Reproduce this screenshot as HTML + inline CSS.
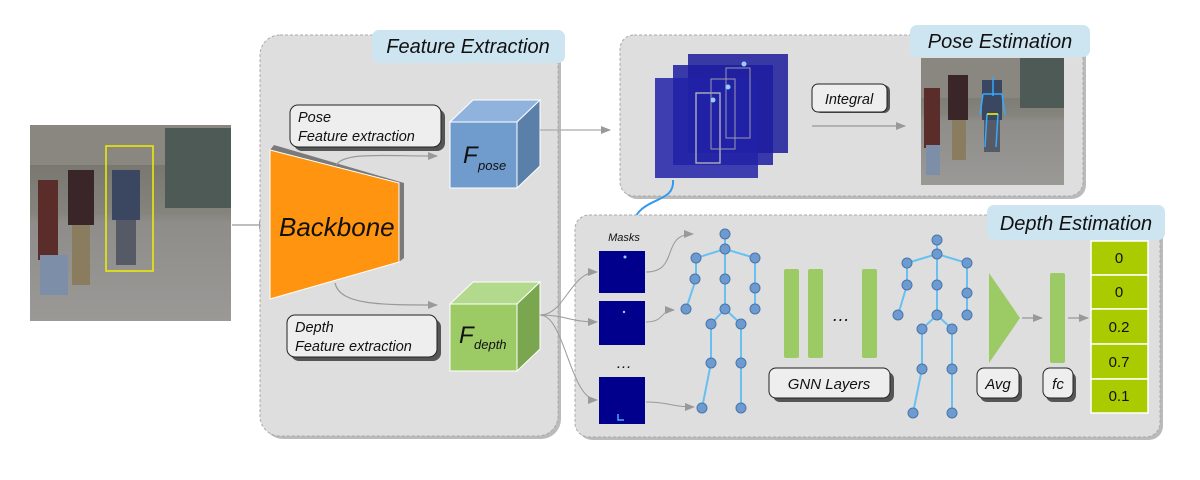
<!DOCTYPE html>
<html><head><meta charset="utf-8"><style>
body{margin:0;background:#fff}
svg{display:block}
text{font-family:"Liberation Sans",sans-serif;font-style:italic;fill:#111}
</style></head><body>
<svg width="1200" height="480" viewBox="0 0 1200 480" xmlns="http://www.w3.org/2000/svg">
<defs>
<marker id="ag" markerWidth="10" markerHeight="8" refX="9" refY="4" orient="auto" markerUnits="userSpaceOnUse"><path d="M0,0 L10,4 L0,8 z" fill="#999"/></marker>
<marker id="ab" markerWidth="10" markerHeight="8" refX="9" refY="4" orient="auto" markerUnits="userSpaceOnUse"><path d="M0,0 L10,4 L0,8 z" fill="#3399ee"/></marker>
<linearGradient id="ph" x1="0" y1="0" x2="0" y2="1"><stop offset="0" stop-color="#6f6e66"/><stop offset="0.45" stop-color="#85847c"/><stop offset="0.5" stop-color="#8e8d8a"/><stop offset="1" stop-color="#9a9996"/></linearGradient>
</defs>

<!-- left photo -->
<rect x="30" y="125" width="201" height="196" fill="url(#ph)"/>
<rect x="30" y="125" width="201" height="40" fill="#8a8780"/>
<rect x="165" y="128" width="66" height="80" fill="#4d5a55"/>
<rect x="38" y="180" width="20" height="80" fill="#5a2d2a"/>
<rect x="68" y="170" width="26" height="55" fill="#3a2528"/><rect x="72" y="225" width="18" height="60" fill="#8a7c5e"/>
<rect x="112" y="170" width="28" height="50" fill="#3b4660"/><rect x="116" y="220" width="20" height="45" fill="#555a66"/>
<rect x="40" y="255" width="28" height="40" fill="#7c8ea8"/>
<rect x="106" y="146" width="47" height="125" fill="none" stroke="#f0f000" stroke-width="1.5"/>
<line x1="232" y1="225" x2="268" y2="225" stroke="#999" stroke-width="1.2" marker-end="url(#ag)"/>

<!-- Feature extraction panel -->
<rect x="263" y="38" width="298" height="401" rx="20" fill="#bbb"/>
<rect x="260" y="35" width="298" height="401" rx="20" fill="#dedede" stroke="#aaa" stroke-dasharray="3,2"/>
<rect x="372" y="30" width="193" height="33" rx="7" fill="#cde4f1"/>
<text x="468" y="53" font-size="20" text-anchor="middle">Feature Extraction</text>

<!-- backbone -->
<polygon points="274,145 404,183 404,258 399,262 399,183 270,150" fill="#7a7a7a"/>
<polygon points="270,150 399,183 399,262 270,299" fill="#ff9410" stroke="#fff" stroke-width="1"/>
<text x="279" y="236" font-size="26">Backbone</text>

<!-- pose label -->
<rect x="294" y="109" width="151" height="42" rx="8" fill="#555"/>
<rect x="290" y="105" width="151" height="42" rx="8" fill="#eee" stroke="#222"/>
<text x="298" y="122" font-size="14.5">Pose</text>
<text x="298" y="141" font-size="14.5">Feature extraction</text>
<!-- depth label -->
<rect x="291" y="319" width="150" height="42" rx="8" fill="#555"/>
<rect x="287" y="315" width="150" height="42" rx="8" fill="#eee" stroke="#222"/>
<text x="295" y="332" font-size="14.5">Depth</text>
<text x="295" y="351" font-size="14.5">Feature extraction</text>

<path d="M336,165 C345,152 380,156 437,156" fill="none" stroke="#999" stroke-width="1.2" marker-end="url(#ag)"/>
<path d="M335,283 C340,305 380,305 437,305" fill="none" stroke="#999" stroke-width="1.2" marker-end="url(#ag)"/>

<!-- F_pose cube -->
<polygon points="450,122 473,100 540,100 517,122" fill="#8fb3dc" stroke="#fff"/>
<polygon points="517,122 540,100 540,166 517,188" fill="#5a7fa8" stroke="#fff"/>
<rect x="450" y="122" width="67" height="66" fill="#6f9ccd" stroke="#fff"/>
<text x="463" y="163" font-size="24">F</text><text x="478" y="170" font-size="13">pose</text>
<!-- F_depth cube -->
<polygon points="450,304 473,282 540,282 517,304" fill="#b2d98c" stroke="#fff"/>
<polygon points="517,304 540,282 540,349 517,371" fill="#7aa64f" stroke="#fff"/>
<rect x="450" y="304" width="67" height="67" fill="#9ccb66" stroke="#fff"/>
<text x="459" y="343" font-size="24">F</text><text x="474" y="349" font-size="13">depth</text>

<line x1="540" y1="130" x2="610" y2="130" stroke="#aaa" stroke-width="1.2" marker-end="url(#ag)"/>

<!-- Pose estimation panel -->
<rect x="623" y="38" width="463" height="161" rx="14" fill="#bbb"/>
<rect x="620" y="35" width="463" height="161" rx="14" fill="#dedede" stroke="#aaa" stroke-dasharray="3,2"/>
<rect x="688" y="54" width="100" height="99" fill="#1c1c9c" opacity="0.85"/>
<rect x="673" y="65" width="100" height="100" fill="#1c1ca0" opacity="0.85"/>
<rect x="655" y="78" width="103" height="100" fill="#2222a8" opacity="0.85"/>
<rect x="696" y="93" width="24" height="70" fill="none" stroke="#bbb" stroke-width="1.3"/>
<rect x="711" y="79" width="24" height="70" fill="none" stroke="#99a" stroke-width="1"/>
<rect x="726" y="68" width="24" height="70" fill="none" stroke="#99a" stroke-width="1"/>
<circle cx="713" cy="100" r="2.5" fill="#9cf"/><circle cx="728" cy="87" r="2.5" fill="#9cf"/><circle cx="744" cy="64" r="2.5" fill="#9cf"/>
<rect x="815" y="85" width="75" height="28" rx="6" fill="#555"/>
<rect x="812" y="84" width="75" height="28" rx="6" fill="#eee" stroke="#222"/>
<text x="849" y="104" font-size="14.5" text-anchor="middle">Integral</text>
<line x1="812" y1="126" x2="905" y2="126" stroke="#999" stroke-width="1.2" marker-end="url(#ag)"/>
<rect x="921" y="58" width="143" height="127" fill="url(#ph)"/>
<rect x="921" y="58" width="143" height="40" fill="#8a8780"/>
<rect x="1020" y="58" width="44" height="50" fill="#4d5a55"/>
<rect x="924" y="88" width="16" height="60" fill="#5a2d2a"/><rect x="926" y="145" width="14" height="30" fill="#7c8ea8"/>
<rect x="948" y="75" width="20" height="45" fill="#3a2528"/><rect x="952" y="120" width="14" height="40" fill="#8a7c5e"/>
<rect x="982" y="80" width="20" height="40" fill="#3b4660"/><rect x="984" y="120" width="16" height="32" fill="#555a66"/>
<path d="M993,77 V96 M983,94 H1002 M983,94 L980,115 M1002,94 L1005,115 M987,114 L985,147 M998,114 L996,147" stroke="#3af" stroke-width="1.5" fill="none"/>
<path d="M987,114 H998" stroke="#ff0" stroke-width="1.5"/>
<rect x="910" y="25" width="180" height="32" rx="7" fill="#cde4f1"/>
<text x="1000" y="48" font-size="20" text-anchor="middle">Pose Estimation</text>

<path d="M673,180 C675,205 640,195 632,225" fill="none" stroke="#3399ee" stroke-width="2" marker-end="url(#ab)"/>

<!-- Depth panel -->
<rect x="578" y="218" width="585" height="222" rx="14" fill="#bbb"/>
<rect x="575" y="215" width="585" height="222" rx="14" fill="#dedede" stroke="#aaa" stroke-dasharray="3,2"/>
<rect x="987" y="205" width="178" height="35" rx="7" fill="#cde4f1"/>
<text x="1076" y="230" font-size="20" text-anchor="middle">Depth Estimation</text>

<text x="624" y="241" font-size="11" text-anchor="middle">Masks</text>
<rect x="599" y="251" width="46" height="42" fill="#00008c"/><circle cx="625" cy="257" r="1.5" fill="#9cf"/>
<rect x="599" y="301" width="46" height="44" fill="#00008c"/><circle cx="624" cy="312" r="1.2" fill="#9cf"/>
<text x="624" y="368" font-size="16" text-anchor="middle" font-style="normal">…</text>
<rect x="599" y="377" width="46" height="47" fill="#00008c"/><path d="M618,414 V420 H624" stroke="#4af" stroke-width="1.5" fill="none"/>

<path d="M540,315 C565,315 570,272 597,272" fill="none" stroke="#999" stroke-width="1" marker-end="url(#ag)"/>
<path d="M540,315 C565,315 570,322 597,322" fill="none" stroke="#999" stroke-width="1" marker-end="url(#ag)"/>
<path d="M540,315 C565,315 570,400 597,400" fill="none" stroke="#999" stroke-width="1" marker-end="url(#ag)"/>
<path d="M646,272 C680,272 660,234 693,234" fill="none" stroke="#999" stroke-width="1" marker-end="url(#ag)"/>
<path d="M646,322 C665,322 660,310 674,310" fill="none" stroke="#999" stroke-width="1" marker-end="url(#ag)"/>
<path d="M646,402 C670,402 670,407 694,407" fill="none" stroke="#999" stroke-width="1" marker-end="url(#ag)"/>

<!-- skeleton 1 -->
<g stroke="#66c1f2" stroke-width="2" fill="none">
<path d="M725,234 V309 M696,258 L725,249 L755,258 M696,258 V279 L686,309 M755,258 V309 M725,309 L711,324 V363 L702,408 M725,309 L741,324 V408"/>
</g>
<g fill="#6d9ad0" stroke="#4a75a8" stroke-width="1">
<circle cx="725" cy="234" r="5"/><circle cx="725" cy="249" r="5"/><circle cx="696" cy="258" r="5"/><circle cx="755" cy="258" r="5"/>
<circle cx="695" cy="279" r="5"/><circle cx="686" cy="309" r="5"/><circle cx="725" cy="279" r="5"/><circle cx="755" cy="288" r="5"/>
<circle cx="755" cy="309" r="5"/><circle cx="725" cy="309" r="5"/><circle cx="711" cy="324" r="5"/><circle cx="741" cy="324" r="5"/>
<circle cx="711" cy="363" r="5"/><circle cx="741" cy="363" r="5"/><circle cx="702" cy="408" r="5"/><circle cx="741" cy="408" r="5"/>
</g>

<!-- GNN -->
<rect x="784" y="269" width="15" height="89" rx="2" fill="#9ccb66"/>
<rect x="808" y="269" width="15" height="89" rx="2" fill="#9ccb66"/>
<rect x="862" y="269" width="15" height="89" rx="2" fill="#9ccb66"/>
<text x="841" y="321" font-size="18" text-anchor="middle" font-style="normal">…</text>
<rect x="773" y="372" width="121" height="30" rx="7" fill="#555"/>
<rect x="769" y="368" width="121" height="30" rx="7" fill="#eee" stroke="#222"/>
<text x="829" y="389" font-size="15" text-anchor="middle">GNN Layers</text>

<!-- skeleton 2 -->
<g stroke="#66c1f2" stroke-width="2" fill="none">
<path d="M937,240 V315 M907,263 L937,254 L967,263 M907,263 V285 L898,315 M967,263 V315 M937,315 L922,329 V369 L913,413 M937,315 L952,329 V413"/>
</g>
<g fill="#6d9ad0" stroke="#4a75a8" stroke-width="1">
<circle cx="937" cy="240" r="5"/><circle cx="937" cy="254" r="5"/><circle cx="907" cy="263" r="5"/><circle cx="967" cy="263" r="5"/>
<circle cx="907" cy="285" r="5"/><circle cx="898" cy="315" r="5"/><circle cx="937" cy="285" r="5"/><circle cx="967" cy="293" r="5"/>
<circle cx="967" cy="315" r="5"/><circle cx="937" cy="315" r="5"/><circle cx="922" cy="329" r="5"/><circle cx="952" cy="329" r="5"/>
<circle cx="922" cy="369" r="5"/><circle cx="952" cy="369" r="5"/><circle cx="913" cy="413" r="5"/><circle cx="952" cy="413" r="5"/>
</g>

<!-- Avg / fc -->
<polygon points="989,273 1020,318 989,363" fill="#9ccb66"/>
<rect x="980" y="372" width="42" height="30" rx="7" fill="#555"/>
<rect x="977" y="368" width="42" height="30" rx="7" fill="#eee" stroke="#222"/>
<text x="998" y="389" font-size="15" text-anchor="middle">Avg</text>
<line x1="1022" y1="318" x2="1042" y2="318" stroke="#999" stroke-width="1.2" marker-end="url(#ag)"/>
<rect x="1050" y="273" width="15" height="90" rx="2" fill="#9ccb66"/>
<rect x="1046" y="372" width="30" height="30" rx="7" fill="#555"/>
<rect x="1043" y="368" width="30" height="30" rx="7" fill="#eee" stroke="#222"/>
<text x="1058" y="389" font-size="15" text-anchor="middle">fc</text>
<line x1="1068" y1="318" x2="1088" y2="318" stroke="#999" stroke-width="1.2" marker-end="url(#ag)"/>

<!-- values -->
<g fill="#aacb00" stroke="#fff" stroke-width="1.5">
<rect x="1091" y="241" width="57" height="34"/><rect x="1091" y="275" width="57" height="34"/>
<rect x="1091" y="309" width="57" height="35"/><rect x="1091" y="344" width="57" height="35"/>
<rect x="1091" y="379" width="57" height="34"/>
</g>
<g font-size="15" text-anchor="middle" style="font-style:normal">
<text x="1119" y="263" style="font-style:normal">0</text>
<text x="1119" y="297" style="font-style:normal">0</text>
<text x="1119" y="332" style="font-style:normal">0.2</text>
<text x="1119" y="367" style="font-style:normal">0.7</text>
<text x="1119" y="401" style="font-style:normal">0.1</text>
</g>
</svg>
</body></html>
